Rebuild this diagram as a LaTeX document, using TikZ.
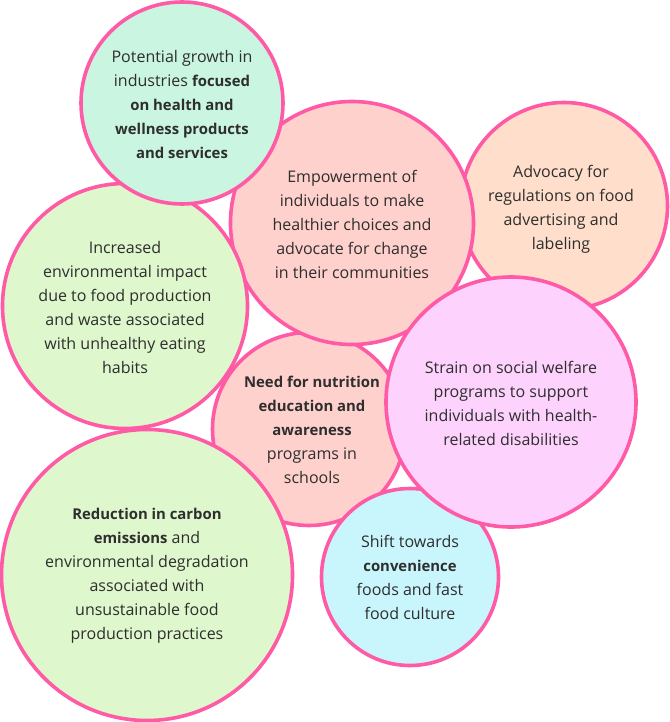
\documentclass[tikz,border=0pt]{standalone}
\usepackage{fontspec}
\setmainfont{Open Sans}[BoldFeatures={Scale=0.93}]
\usetikzlibrary{calc}
\definecolor{bord}{HTML}{FF5AA6}
\definecolor{cteal}{HTML}{C9F5E1}
\definecolor{cpink}{HTML}{FFD1CD}
\definecolor{cpeach}{HTML}{FFDFCB}
\definecolor{cgreen}{HTML}{DFF7CC}
\definecolor{cmag}{HTML}{FDD3FD}
\definecolor{ccyan}{HTML}{C9F6FC}
\definecolor{txt}{HTML}{2E2E2E}
\tikzset{
  bubble/.style={circle, draw=bord, line width=3.6pt, inner sep=0pt},
  bubtext/.style={align=center, text=txt, inner sep=0pt, font=\fontsize{16}{24}\selectfont}
}
\begin{document}
\begin{tikzpicture}[x=1pt,y=-1pt]
\useasboundingbox (0,0) rectangle (669,722);
% circles in stacking order
\node[bubble, fill=cpeach, minimum size=207pt] (c3) at (564,206) {};
\node[bubble, fill=cpink, minimum size=193pt] (c5) at (309,429) {};
\node[bubble, fill=cpink, minimum size=243pt] (c2) at (352,223) {};
\node[bubble, fill=cgreen, minimum size=245pt] (c4) at (125,306) {};
\node[bubble, fill=cteal, minimum size=202pt] (c1) at (182,103) {};
\node[bubble, fill=cgreen, minimum size=291pt] (c7) at (147,575) {};
\node[bubble, fill=ccyan, minimum size=177pt] (c8) at (410,577) {};
\node[bubble, fill=cmag, minimum size=250pt] (c6) at (511,402) {};
% texts
\node[bubtext] (t1) at ($(c1)+(0,1)$) {Potential growth in\\industries \textbf{focused}\\\textbf{on health and}\\\textbf{wellness products}\\\textbf{and services}};
\node[bubtext] (t2) at ($(c2)+(0,1)$) {Empowerment of\\individuals to make\\healthier choices and\\advocate for change\\in their communities};
\node[bubtext] (t3) at ($(c3)+(-3,3)$) {Advocacy for\\regulations on food\\advertising and\\labeling};
\node[bubtext] (t4) at ($(c4)+(0,1)$) {Increased\\environmental impact\\due to food production\\and waste associated\\with unhealthy eating\\habits};
\node[bubtext] (t5) at ($(c5)+(3,1)$) {\textbf{Need for nutrition}\\\textbf{education and}\\\textbf{awareness}\\programs in\\schools};
\node[bubtext] (t6) at ($(c6)+(0,1)$) {Strain on social welfare\\programs to support\\individuals with health-\\related disabilities};
\node[bubtext] (t7) at ($(c7)+(0,1)$) {\textbf{Reduction in carbon}\\\textbf{emissions} and\\environmental degradation\\associated with\\unsustainable food\\production practices};
\node[bubtext] (t8) at ($(c8)+(0,0)$) {Shift towards\\\textbf{convenience}\\foods and fast\\food culture};
\end{tikzpicture}
\end{document}
